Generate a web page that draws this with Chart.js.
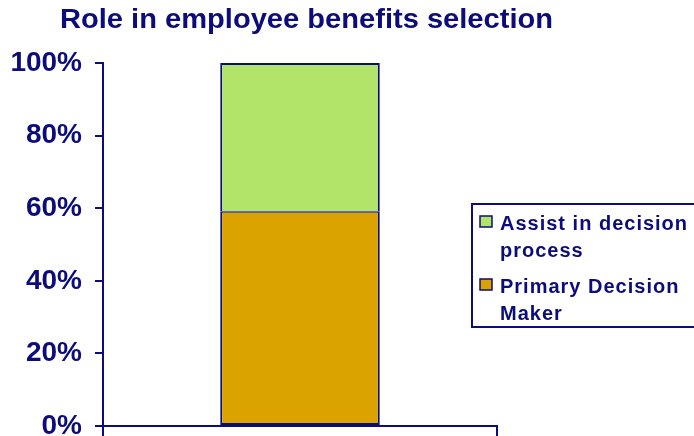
<!DOCTYPE html>
<html>
<head>
<meta charset="utf-8">
<script src="https://cdn.jsdelivr.net/npm/chart.js@4"></script>
<style>
  html, body { margin: 0; padding: 0; background: #fff; }
  #wrap { width: 694px; height: 436px; }
</style>
</head>
<body>
<div id="wrap"><canvas id="chart"></canvas></div>
<script>
const chartTitle = "Role in employee benefits selection";
const categories = [""];
const primaryDecisionMaker = [59];
const assistInDecision = [41];
const primaryLabel = ["Primary Decision", "Maker"];
const assistLabel = ["Assist in decision", "process"];

const NAVY = "#0c0c7a";
const FONT = "'Liberation Sans', Arial, sans-serif";

// wide bold heading over the plot
const wideTitle = {
    id: "wideTitle",
    afterDraw(chart) {
        const ctx = chart.ctx;
        ctx.save();
        ctx.font = "bold 27px " + FONT;
        ctx.fillStyle = NAVY;
        ctx.textBaseline = "alphabetic";
        const w = ctx.measureText(chartTitle).width;
        ctx.translate(60, 28);
        ctx.scale(493 / w, 1);
        ctx.fillText(chartTitle, 0, 0);
        ctx.restore();
    }
};

// boxed legend on the right, top series listed first
const boxLegend = {
    id: "boxLegend",
    afterDraw(chart) {
        const ctx = chart.ctx;
        const left = 472, top = 204, bottom = 327;
        ctx.save();
        ctx.strokeStyle = NAVY;
        ctx.lineWidth = 2;
        ctx.strokeRect(left, top, 260, bottom - top);

        ctx.font = "bold 20px " + FONT;
        ctx.letterSpacing = "1px";
        ctx.textBaseline = "alphabetic";

        const items = chart.data.datasets.slice().reverse();
        let y = 230;
        items.forEach((ds) => {
            ctx.fillStyle = ds.backgroundColor;
            ctx.fillRect(480, y - 14, 12, 11);
            ctx.lineWidth = 1.5;
            ctx.strokeStyle = NAVY;
            ctx.strokeRect(480, y - 14, 12, 11);
            ctx.fillStyle = NAVY;
            ds.label.forEach((line, i) => {
                ctx.fillText(line, 500, y + i * 27);
            });
            y += 63;
        });
        ctx.restore();
    }
};

new Chart(document.getElementById("chart"), {
    type: "bar",
    data: {
        labels: categories,
        datasets: [
            {
                label: primaryLabel,
                data: primaryDecisionMaker,
                backgroundColor: "#dba300",
                borderColor: NAVY,
                borderWidth: { top: 1, left: 2, right: 2, bottom: 2 },
                borderSkipped: false
            },
            {
                label: assistLabel,
                data: assistInDecision,
                backgroundColor: "#b2e46a",
                borderColor: NAVY,
                borderWidth: { top: 2, left: 2, right: 2, bottom: 1 },
                borderSkipped: false
            }
        ]
    },
    options: {
        responsive: true,
        maintainAspectRatio: false,
        animation: false,
        layout: { padding: { left: 10, right: 197, top: 63, bottom: 0 } },
        datasets: { bar: { barPercentage: 0.405, categoryPercentage: 1 } },
        plugins: {
            legend: { display: false },
            tooltip: { enabled: false },
            title: { display: false }
        },
        scales: {
            x: {
                stacked: true,
                afterFit(scale) {
                    scale.paddingLeft = 0;
                    scale.paddingRight = 0;
                },
                border: { color: NAVY, width: 2 },
                grid: {
                    offset: true,
                    drawOnChartArea: false,
                    color: NAVY,
                    lineWidth: 2,
                    tickLength: 10
                },
                ticks: { display: false }
            },
            y: {
                stacked: true,
                min: 0,
                max: 100,
                afterFit(scale) {
                    scale.width = 93;
                    scale.paddingTop = 0;
                    scale.paddingBottom = 0;
                },
                border: { color: NAVY, width: 2 },
                grid: {
                    drawOnChartArea: false,
                    color: NAVY,
                    lineWidth: 2,
                    tickLength: 8
                },
                ticks: {
                    stepSize: 20,
                    padding: 13,
                    color: NAVY,
                    font: { family: FONT, size: 28, weight: "bold" },
                    callback: (v) => v + "%"
                }
            }
        }
    },
    plugins: [wideTitle, boxLegend]
});
</script>
</body>
</html>
